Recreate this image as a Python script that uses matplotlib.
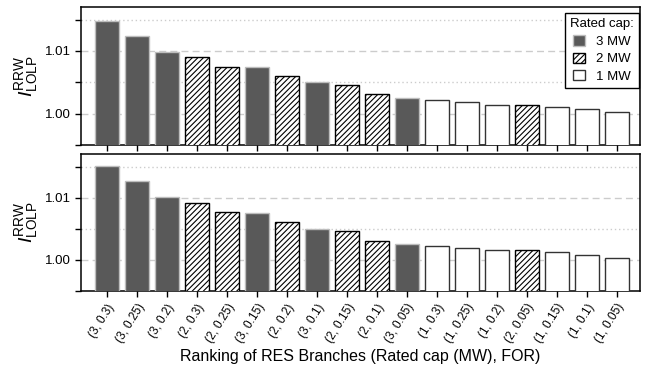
import matplotlib
matplotlib.use("Agg")
import matplotlib.pyplot as plt
from matplotlib.patches import Patch
from matplotlib.ticker import MultipleLocator, FormatStrFormatter

plt.rcParams['font.family'] = ['Liberation Sans', 'DejaVu Sans']
plt.rcParams['mathtext.fontset'] = 'custom'
plt.rcParams['mathtext.rm'] = 'Liberation Sans'
plt.rcParams['mathtext.it'] = 'Liberation Sans:italic'
plt.rcParams['hatch.linewidth'] = 0.8

# Branch ranking: (rated cap in MW, FOR)
branch_labels = ["(3, 0.3)", "(3, 0.25)", "(3, 0.2)", "(2, 0.3)", "(2, 0.25)", "(3, 0.15)",
                 "(2, 0.2)", "(3, 0.1)", "(2, 0.15)", "(2, 0.1)", "(3, 0.05)", "(1, 0.3)",
                 "(1, 0.25)", "(1, 0.2)", "(2, 0.05)", "(1, 0.15)", "(1, 0.1)", "(1, 0.05)"]
rated_cap = [3, 3, 3, 2, 2, 3, 2, 3, 2, 2, 3, 1, 1, 1, 2, 1, 1, 1]

rrw_top = [1.01482, 1.01230, 1.00989, 1.00899, 1.00748, 1.00738, 1.00599, 1.00498, 1.00454,
           1.00305, 1.00246, 1.00222, 1.00189, 1.00144, 1.00144, 1.00106, 1.00074, 1.00032]
rrw_bottom = [1.01510, 1.01263, 1.01006, 1.00915, 1.00766, 1.00760, 1.00615, 1.00503, 1.00460,
              1.00310, 1.00250, 1.00230, 1.00190, 1.00155, 1.00155, 1.00120, 1.00075, 1.00037]

cap_style = {
    3: dict(facecolor='#595959', edgecolor='#bdbdbd', hatch=None),
    2: dict(facecolor='white', edgecolor='black', hatch='//////'),
    1: dict(facecolor='white', edgecolor='#333333', hatch=None),
}

fig = plt.figure(figsize=(6.48, 3.67), dpi=100)
ax_top = fig.add_axes([0.125, 0.605, 0.8627, 0.376])
ax_bot = fig.add_axes([0.125, 0.207, 0.8627, 0.373])

x = list(range(len(branch_labels)))

for ax, values in ((ax_top, rrw_top), (ax_bot, rrw_bottom)):
    for xi, val, cap in zip(x, values, rated_cap):
        st = cap_style[cap]
        ax.bar(xi, val - 0.99, bottom=0.99, width=0.8, facecolor=st['facecolor'],
               edgecolor=st['edgecolor'], hatch=st['hatch'], linewidth=1.0, zorder=3)
    ax.set_ylim(0.995, 1.017)
    ax.set_xlim(-0.86, 17.78)
    ax.yaxis.set_major_locator(MultipleLocator(0.01))
    ax.yaxis.set_minor_locator(MultipleLocator(0.005))
    ax.yaxis.set_major_formatter(FormatStrFormatter('%.2f'))
    ax.grid(which='major', axis='y', color='#cccccc', linestyle=(0, (5, 3)), linewidth=1.0, zorder=0)
    ax.grid(which='minor', axis='y', color='#cccccc', linestyle=(0, (1, 2)), linewidth=1.0, zorder=0)
    ax.tick_params(axis='both', which='both', direction='out', length=4, width=1.0, labelsize=9.5)
    ax.set_xticks(x)
    for sp in ax.spines.values():
        sp.set_linewidth(1.1)
    ax.set_ylabel(r'$I^{\mathrm{RRW}}_{\mathrm{LOLP}}$', fontsize=14, labelpad=3)

ax_top.set_xticklabels([])
ax_bot.set_xticklabels(branch_labels, rotation=58, ha='right', rotation_mode='anchor', fontsize=8.5)
ax_bot.set_xlabel('Ranking of RES Branches (Rated cap (MW), FOR)', fontsize=11.5, labelpad=3)

handles = [Patch(facecolor=cap_style[c]['facecolor'], edgecolor=cap_style[c]['edgecolor'],
                 hatch=cap_style[c]['hatch'], label=f'{c} MW') for c in (3, 2, 1)]
leg = ax_top.legend(handles=handles, title='Rated cap:', loc='upper right',
                    bbox_to_anchor=(0.999, 0.955), borderaxespad=0, fontsize=9.5,
                    title_fontsize=9.5, fancybox=False, framealpha=1, edgecolor='black',
                    handlelength=0.85, handleheight=0.85, handletextpad=0.9, labelspacing=0.35)
leg.get_frame().set_linewidth(1.0)
leg.set_zorder(5)

fig.savefig('out.png', dpi=100)
